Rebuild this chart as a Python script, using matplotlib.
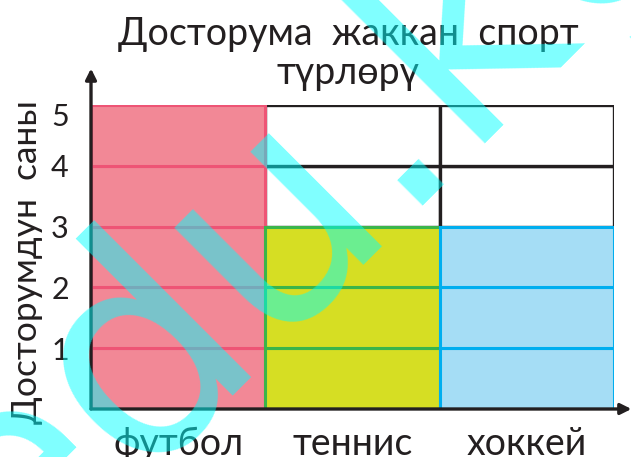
import matplotlib.pyplot as plt
from matplotlib.patches import Rectangle
from matplotlib.transforms import ScaledTranslation

plt.rcParams['font.family'] = ['Lato', 'DejaVu Sans']

sports = ['футбол', 'теннис', 'хоккей']
friends = [5, 3, 3]
levels = [1, 2, 3, 4, 5]
fills = ['#F28896', '#D6DE23', '#A5DDF5']
edges = ['#EE5475', '#3AB54A', '#00AEEF']
ink = '#231F20'

fig = plt.figure(figsize=(6.31, 4.57), dpi=100)
ax = fig.add_axes([91 / 631, 48 / 457, 523 / 631, 304 / 457])
ax.set_xlim(0, 3)
ax.set_ylim(0, 5)

# empty grid cells first, then coloured cells stacked one per friend
for i, n in enumerate(friends):
    for k in range(levels[-1]):
        if k >= n:
            ax.add_patch(Rectangle((i, k), 1, 1, facecolor='white',
                                   edgecolor=ink, linewidth=2.4, zorder=1))
for i, n in enumerate(friends):
    for k in range(n):
        ax.add_patch(Rectangle((i, k), 1, 1, facecolor=fills[i],
                               edgecolor=edges[i], linewidth=2.2, zorder=2))

for s in ax.spines.values():
    s.set_visible(False)

# axis arrows
ax.annotate('', xy=(0, 5.6), xytext=(0, 0), annotation_clip=False,
            arrowprops=dict(arrowstyle='-|>', color=ink, lw=2.4,
                            mutation_scale=16, shrinkA=0, shrinkB=0), zorder=3)
ax.annotate('', xy=(3.1, 0), xytext=(0, 0), annotation_clip=False,
            arrowprops=dict(arrowstyle='-|>', color=ink, lw=2.4,
                            mutation_scale=16, shrinkA=0, shrinkB=0), zorder=3)

ax.set_yticks(levels)
ax.set_yticklabels([str(v) for v in levels], fontsize=22, color=ink)
ax.set_xticks([0.5, 1.5, 2.5])
ax.set_xticklabels(sports, fontsize=27, color=ink)
ax.tick_params(length=0)
ax.tick_params(axis='y', pad=16)
ax.tick_params(axis='x', pad=12)
# nudge the top label below the arrow
top = ax.get_yticklabels()[-1]
top.set_transform(top.get_transform() + ScaledTranslation(0, -0.09, fig.dpi_scale_trans))

ax.set_ylabel('Досторумдун  саны', fontsize=25.5, color=ink, va='center')
ax.yaxis.set_label_coords(-0.122, 0.484)
fig.text(0.552, 0.965, 'Досторума  жаккан  спорт\nтүрлөрү', ha='center',
         va='top', fontsize=27, color=ink, linespacing=1.12)

# site watermark
fig.text(361 / 631, 1 - 252 / 457, 'edu.kg', rotation=45,
         rotation_mode='anchor', ha='center', va='baseline',
         fontfamily='DejaVu Sans', fontsize=210, color='cyan', alpha=0.5,
         zorder=10)

fig.savefig('out.png', dpi=100)
